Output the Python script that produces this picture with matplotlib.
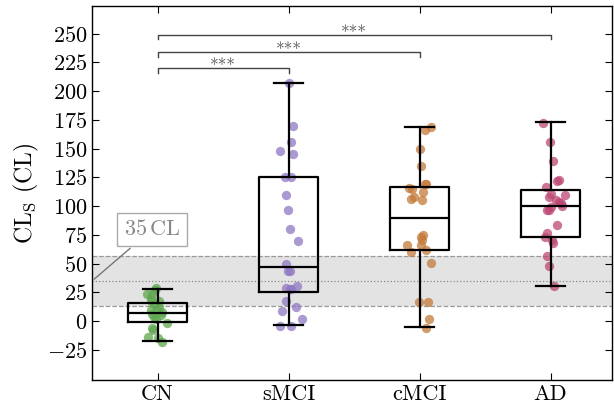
import numpy as np
import matplotlib as mpl
import matplotlib.pyplot as plt

# 字体: matplotlib 自带的 Computer Modern
mpl.rcParams['font.family'] = 'cmr10'
mpl.rcParams['mathtext.fontset'] = 'cm'
mpl.rcParams['axes.formatter.use_mathtext'] = True
mpl.rcParams['xtick.labelsize'] = 16
mpl.rcParams['ytick.labelsize'] = 16

groups = ['CN', 'sMCI', 'cMCI', 'AD']
colors = ['#5fa64f', '#8f77c4', '#c47a3a', '#bd4774']

# 箱线图统计量
whislo = [-17, -3, -5, 31]
q1 = [-1, 25, 62, 73]
med = [7, 47, 90, 100]
q3 = [16, 125, 117, 114]
whishi = [28, 207, 169, 173]

# 散点数值
cn_vals = [28.5, 27, 24, 24, 20, 18, 18, 15, 12, 9.6, 9.6, 8, 6.7, 5, 4, 2.3, -1.5, -5.8, -8, -14, -15, -18]
cn_dx = [-0.015, -0.023, -0.040, -0.079, -0.053, 0.010, -0.053, -0.028, 0.010, -0.002, -0.053, 0.036,
         -0.040, 0.023, -0.028, -0.015, 0.074, -0.046, -0.033, -0.074, 0.005, 0.036]
smci_vals = [207, 170, 156, 148, 145, 125, 125, 110, 97, 80, 70, 50, 44, 44, 31, 29, 28, 28, 18, 12, 9, 2, -4, -4]
smci_dx = [0.002, 0.033, 0.015, -0.066, 0.036, -0.028, 0.015, -0.018, -0.002, 0.008, 0.074, -0.018,
           -0.008, 0.008, 0.066, -0.023, 0.015, 0.010, -0.018, 0.059, -0.053, 0.099, -0.066, 0.015]
cmci_vals = [169, 166, 150, 135, 119, 119, 116, 115, 112, 108, 106, 105, 75, 73, 70.5, 66, 66, 60, 62, 51,
             16.5, 16.5, 1.7, -5.5]
cmci_dx = [0.084, 0.038, 0.002, 0.013, 0.038, 0.051, -0.082, -0.056, 0.025, -0.043, -0.063, 0.021,
           0.028, 0.008, 0.018, -0.094, 0.008, -0.069, 0.046, 0.089, -0.005, 0.063, 0.071, 0.046]
ad_vals = [172, 156, 139, 123, 122, 117, 111, 110, 108, 105, 104, 102.5, 100.5, 99, 97, 96.7, 84, 77, 73,
           70.5, 67.7, 57, 48, 31]
ad_dx = [-0.059, -0.005, 0.018, 0.063, 0.051, -0.033, 0.0, 0.107, -0.013, 0.038, 0.063, 0.076,
         0.089, 0.005, -0.025, -0.013, 0.051, -0.031, -0.043, 0.013, 0.021, -0.025, -0.013, 0.025]

vals = [cn_vals, smci_vals, cmci_vals, ad_vals]
dxs = [cn_dx, smci_dx, cmci_dx, ad_dx]

# 显著性标注: (组a, 组b, 高度)
sig_pairs = [(0, 1, 220), (0, 2, 234), (0, 3, 249)]
sig_text = '***'

ref_cl = 35
band = 22

fig = plt.figure(figsize=(6.14, 4.05), dpi=100)
ax = fig.add_axes([0.150, 0.062, 0.847, 0.923])

# 灰色区间
ax.axhspan(ref_cl - band, ref_cl + band, color='#e3e3e3', zorder=0, lw=0)
ax.axhline(ref_cl - band, color='#999999', ls='--', lw=0.9, zorder=1)
ax.axhline(ref_cl + band, color='#999999', ls='--', lw=0.9, zorder=1)
ax.axhline(ref_cl, color='#888888', ls=':', lw=0.9, zorder=1)

# 散点
for i in range(4):
    x = i + np.array(dxs[i])
    ax.scatter(x, vals[i], s=45, color=colors[i], alpha=0.75, lw=0, zorder=2)

# 箱线图
stats = []
for i in range(4):
    stats.append(dict(med=med[i], q1=q1[i], q3=q3[i], whislo=whislo[i], whishi=whishi[i], fliers=[]))
lp = dict(color='black', lw=1.6)
ax.bxp(stats, positions=range(4), widths=0.45, showfliers=False,
       boxprops=lp, medianprops=lp, whiskerprops=lp, capprops=lp, zorder=3)

# 显著性括号
for a, b, h in sig_pairs:
    ax.plot([a, a, b, b], [h - 4, h, h, h - 4], color='#444444', lw=1.0)
    ax.text((a + b) / 2, h - 2.5, sig_text, ha='center', va='baseline', fontsize=12.5, color='#555555')

# 35 CL 注释
ax.annotate('35$\\,$CL', xy=(-0.5, ref_cl), xytext=(-0.04, 80), ha='center', va='center',
            fontsize=16, color='#888888',
            bbox=dict(boxstyle='square,pad=0.3', fc='white', ec='#aaaaaa', lw=1.0),
            arrowprops=dict(arrowstyle='-', color='#777777', lw=1.0))

ax.set_xlim(-0.5, 3.47)
ax.set_ylim(-51, 274)
ax.set_xticks(range(4))
ax.set_xticklabels(groups)
ax.set_yticks(np.arange(-25, 251, 25))
ax.tick_params(direction='in', top=True, right=True, length=5, width=0.8)
for s in ax.spines.values():
    s.set_linewidth(1.0)
ax.set_ylabel('CL$_\\mathrm{S}$ (CL)', fontsize=17)

plt.savefig('out.png')
